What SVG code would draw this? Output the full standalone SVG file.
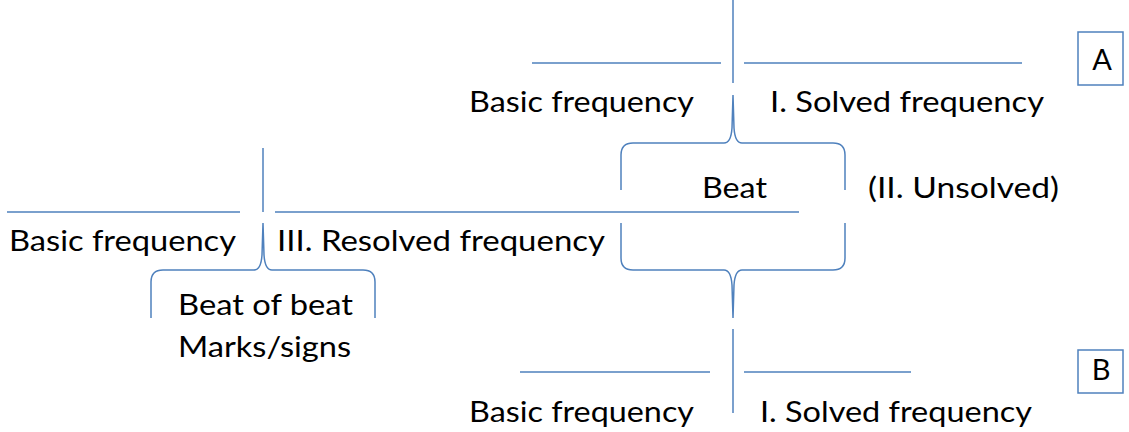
<svg xmlns="http://www.w3.org/2000/svg" width="1129" height="432" viewBox="0 0 1129 432">
<style>
.ln{stroke:#4f81bd;stroke-width:1.5;fill:none}
.box{stroke:#4f81bd;stroke-width:1.5;fill:#fff}
text{font-family:Lato,"Open Sans","Liberation Sans",sans-serif;font-size:29px;fill:#000}
</style>
<rect width="1129" height="432" fill="#fff"/>
<g id="connectors">
<path class="ln" d="M733,0 V83"/>
<path class="ln" d="M532,63 H721 M744,63 H1022"/>
<path class="ln" d="M621,190 V155 Q621,143 633,143 H724 Q731,143 732,128 L733,95 M733,95 L734,128 Q735,143 742,143 H833 Q845,143 845,155 V190"/>
<path class="ln" d="M7,212 H240 M275,212 H799"/>
<path class="ln" d="M263,148 V212"/>
<path class="ln" d="M621,223 V258 Q621,270 633,270 H724 Q731,270 732,285 L733,318 M733,318 L734,285 Q735,270 742,270 H833 Q845,270 845,258 V223"/>
<path class="ln" d="M151,318 V282 Q151,270 163,270 H254 Q261,270 262,255 L263,223 M263,223 L264,255 Q265,270 272,270 H363 Q375,270 375,282 V318"/>
<path class="ln" d="M733,329 V413"/>
<path class="ln" d="M520,372 H710 M744,372 H911"/>
</g>
<g id="top-labels">
<text x="469" y="112" textLength="225" lengthAdjust="spacingAndGlyphs">Basic frequency</text>
<text x="770" y="112" textLength="274" lengthAdjust="spacingAndGlyphs">I. Solved frequency</text>
</g>
<g id="beat">
<text x="702" y="198" textLength="65" lengthAdjust="spacingAndGlyphs">Beat</text>
<text x="868" y="198" textLength="191" lengthAdjust="spacingAndGlyphs">(II. Unsolved)</text>
</g>
<g id="middle-labels">
<text x="9" y="251" textLength="227" lengthAdjust="spacingAndGlyphs">Basic frequency</text>
<text x="277" y="251" textLength="328" lengthAdjust="spacingAndGlyphs">III. Resolved frequency</text>
</g>
<g id="beat-of-beat">
<text x="178" y="315" textLength="175" lengthAdjust="spacingAndGlyphs">Beat of beat</text>
<text x="178" y="357" textLength="173" lengthAdjust="spacingAndGlyphs">Marks/signs</text>
</g>
<g id="bottom-labels">
<text x="469" y="422" textLength="225" lengthAdjust="spacingAndGlyphs">Basic frequency</text>
<text x="760" y="422" textLength="272" lengthAdjust="spacingAndGlyphs">I. Solved frequency</text>
</g>
<g id="box-A">
<rect class="box" x="1078" y="32" width="45" height="53"/>
<text x="1102" y="70" text-anchor="middle">A</text>
</g>
<g id="box-B">
<rect class="box" x="1078" y="350" width="45" height="43"/>
<text x="1101" y="380" text-anchor="middle">B</text>
</g>
</svg>
